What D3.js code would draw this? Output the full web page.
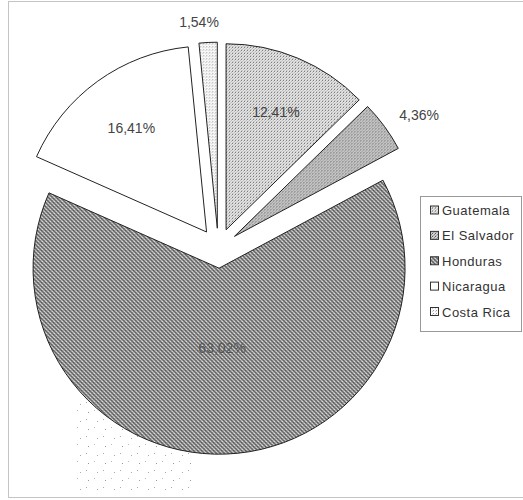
<!DOCTYPE html>
<html>
<head>
<meta charset="utf-8">
<script src="https://cdn.jsdelivr.net/npm/d3@7/dist/d3.min.js"></script>
<style>
  html, body { margin: 0; padding: 0; background: #fff; }
  svg { display: block; }
  text { font-family: Arial, "Liberation Sans", sans-serif; }
</style>
</head>
<body>
<svg id="chart" width="523" height="500"></svg>
<script>
// Share of each country (percent)
const countries = ["Guatemala", "El Salvador", "Honduras", "Nicaragua", "Costa Rica"];
const shares = [12.41, 4.36, 63.02, 16.41, 1.54];
// Slices drawn with their label outside the pie
const outsideLabels = ["El Salvador", "Costa Rica"];

const svg = d3.select("#chart");

// Fill textures for the slices
const defs = svg.append("defs");
function pattern(id, size, bg, dots) {
  const p = defs.append("pattern")
    .attr("id", id).attr("patternUnits", "userSpaceOnUse")
    .attr("width", size).attr("height", size);
  p.append("rect").attr("width", size).attr("height", size).attr("fill", bg);
  dots.forEach(([x, y, c]) => p.append("rect").attr("x", x).attr("y", y)
    .attr("width", 1).attr("height", 1).attr("fill", c));
}
pattern("p-gua", 3, "#e8e8e8", [[0, 0, "#555"], [2, 1, "#aaa"], [1, 2, "#bbb"]]);
pattern("p-sal", 3, "#d6d6d6", [[0, 0, "#444"], [2, 1, "#888"], [1, 2, "#999"], [2, 2, "#bbb"]]);
pattern("p-hon", 4, "#969696", [[0, 0, "#555"], [2, 0, "#ccc"], [1, 1, "#666"], [3, 1, "#eee"],
  [0, 2, "#bbb"], [2, 2, "#444"], [1, 3, "#ddd"], [3, 3, "#666"], [1, 0, "#777"], [3, 2, "#777"]]);
pattern("p-nic", 4, "#ffffff", []);
pattern("p-cos", 3, "#fafafa", [[1, 1, "#999"], [0, 2, "#ccc"]]);
pattern("p-shadow", 17, "none", [[3, 4, "#999"], [12, 13, "#aaa"], [9, 2, "#bbb"], [1, 11, "#aaa"]]);

const fills = d3.scaleOrdinal()
  .domain(countries)
  .range(["url(#p-gua)", "url(#p-sal)", "url(#p-hon)", "url(#p-nic)", "url(#p-cos)"]);

// Plot area frame
svg.append("rect")
  .attr("x", 8.5).attr("y", 1.5).attr("width", 520).attr("height", 496)
  .attr("fill", "none").attr("stroke", "#888").attr("stroke-width", 1)
  .attr("stroke-dasharray", "1,1");

// faint stipple below the pie on the lower left
svg.append("rect")
  .attr("x", 73).attr("y", 395).attr("width", 122).attr("height", 100)
  .attr("fill", "url(#p-shadow)");

// Pie geometry
const cx = 218.3, cy = 248.2, R = 186, explode = 20;

const pie = d3.pie().sort(null).value(d => d.value).startAngle(0).endAngle(2 * Math.PI);
const data = pie(countries.map((c, i) => ({ name: c, value: shares[i] })));
const arc = d3.arc().innerRadius(0).outerRadius(R);

const g = svg.append("g").attr("transform", `translate(${cx},${cy})`);

function offset(d, dist) {
  const a = (d.startAngle + d.endAngle) / 2;
  return [Math.sin(a) * dist, -Math.cos(a) * dist];
}

// Slices
g.selectAll("path.slice")
  .data(data)
  .join("path")
  .attr("class", "slice")
  .attr("transform", d => { const [x, y] = offset(d, explode); return `translate(${x},${y})`; })
  .attr("d", arc)
  .attr("fill", d => fills(d.data.name))
  .attr("stroke", "#222")
  .attr("stroke-width", 1)
  .attr("stroke-linejoin", "miter");

// Value labels with a decimal comma
const fmt = v => d3.format(".2f")(v).replace(".", ",") + "%";
g.selectAll("text.value")
  .data(data)
  .join("text")
  .attr("class", "value")
  .attr("font-size", 14)
  .attr("fill", d => d.data.value > 50 ? "#555" : "#444")
  .attr("text-anchor", "middle")
  .attr("dominant-baseline", "central")
  .each(function (d) {
    const [ox, oy] = offset(d, explode);
    const a = (d.startAngle + d.endAngle) / 2;
    let x, y;
    if (outsideLabels.includes(d.data.name)) {
      const rr = R + 20;
      x = ox + Math.sin(a) * rr + Math.sin(a) * 23 - (Math.sin(a) < 0 ? 7 : 0);
      y = oy - Math.cos(a) * rr;
    } else {
      const rr = d.data.value > 50 ? R * 0.43 : R * 0.69;
      x = ox + Math.sin(a) * rr;
      y = oy - Math.cos(a) * rr;
    }
    d3.select(this).attr("x", x).attr("y", y);
  })
  .text(d => fmt(d.data.value));

// Legend
const lg = svg.append("g").attr("transform", "translate(420,196)");
lg.append("rect")
  .attr("x", 0.5).attr("y", 0.5).attr("width", 101).attr("height", 135)
  .attr("fill", "#fff").attr("stroke", "#333").attr("stroke-width", 1)
  .attr("stroke-dasharray", "1,1");
const rowY = d3.scalePoint().domain(countries).range([14.5, 116]);
const items = lg.selectAll("g.item").data(countries).join("g")
  .attr("class", "item")
  .attr("transform", d => `translate(0,${rowY(d)})`);
items.append("rect")
  .attr("x", 10.5).attr("y", -4.5).attr("width", 8).attr("height", 8)
  .attr("fill", d => fills(d)).attr("stroke", "#333").attr("stroke-width", 1);
items.append("text")
  .attr("x", 22).attr("y", 0)
  .attr("dominant-baseline", "central")
  .attr("font-size", 13)
  .attr("letter-spacing", 0.5)
  .attr("fill", "#333")
  .text(d => d);
</script>
</body>
</html>
